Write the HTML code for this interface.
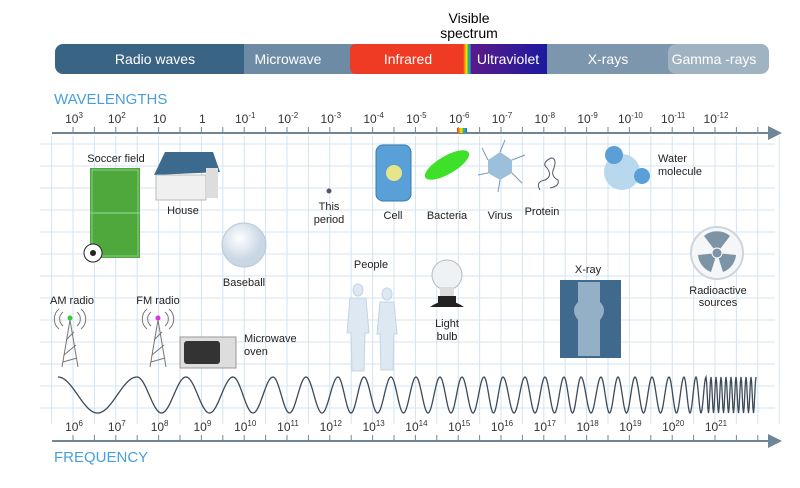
<!DOCTYPE html>
<html><head><meta charset="utf-8"><style>
html,body{margin:0;padding:0;background:#fff;}
svg{display:block;font-family:"Liberation Sans",sans-serif;}
</style></head><body>
<svg id="s" width="800" height="488" viewBox="0 0 800 488" xmlns="http://www.w3.org/2000/svg">
<defs>
<linearGradient id="rb" x1="0" x2="1"><stop offset="0" stop-color="#e33"/><stop offset=".25" stop-color="#f90"/><stop offset=".45" stop-color="#ee0"/><stop offset=".65" stop-color="#3b3"/><stop offset=".85" stop-color="#29f"/><stop offset="1" stop-color="#63c"/></linearGradient>
<linearGradient id="uv" x1="0" x2="1"><stop offset="0" stop-color="#5a1a8a"/><stop offset="1" stop-color="#1a1aa0"/></linearGradient>
<radialGradient id="ball" cx=".4" cy=".35"><stop offset="0" stop-color="#fff"/><stop offset="1" stop-color="#c9d6e4"/></radialGradient>
</defs>
<g id="grid" stroke="#d3e4f1" stroke-width="1"></g>
<!-- top bar -->
<rect x="55" y="44" width="200" height="30" rx="8" fill="#3a6484"/>
<rect x="244" y="44" width="115" height="30" fill="#6d8ba5"/>
<rect x="350" y="44" width="120" height="30" rx="6" fill="#ef3a24"/>
<rect x="463" y="44" width="8" height="30" fill="url(#rb)"/>
<rect x="471" y="44" width="80" height="30" fill="url(#uv)"/>
<rect x="547" y="44" width="130" height="30" fill="#7b96ad"/>
<rect x="668" y="44" width="101" height="30" rx="8" fill="#a0b3c3"/>
<g fill="#fff" font-size="14" text-anchor="middle">
<text x="155" y="64">Radio waves</text><text x="288" y="64">Microwave</text>
<text x="408" y="64">Infrared</text><text x="508" y="64">Ultraviolet</text>
<text x="608" y="64">X-rays</text><text x="714" y="64">Gamma -rays</text>
</g>
<text x="469" y="23" font-size="14" text-anchor="middle">Visible</text>
<text x="469" y="38" font-size="14" text-anchor="middle">spectrum</text>
<text x="54" y="104" font-size="15" fill="#4a9fd8">WAVELENGTHS</text>
<text x="54" y="462" font-size="15" fill="#4a9fd8">FREQUENCY</text>
<!-- axes -->
<line x1="52" y1="133" x2="772" y2="133" stroke="#6f8698" stroke-width="2"/>
<polygon points="768,126 782,133 768,140" fill="#6f8698"/>
<line x1="52" y1="441" x2="772" y2="441" stroke="#6f8698" stroke-width="2"/>
<polygon points="768,434 782,441 768,448" fill="#6f8698"/>
<g id="ticks" stroke="#6f8698" stroke-width="1"></g>
<rect x="457" y="128" width="10" height="5" fill="url(#rb)"/>
<g id="wl" font-size="12" fill="#333" text-anchor="middle"></g>
<path id="wave" fill="none" stroke="#3c4a58" stroke-width="1.3"/>
<!-- illustrations -->
<g font-size="11" fill="#222" text-anchor="middle">
<text x="116" y="162">Soccer field</text>
<rect x="90" y="168" width="50" height="90" fill="#4fa83c"/>
<line x1="90" y1="213" x2="140" y2="213" stroke="#9d9" /><rect x="92" y="170" width="46" height="86" fill="none" stroke="#8c8"/>
<circle cx="93" cy="253" r="9" fill="#fff" stroke="#222"/><circle cx="93" cy="253" r="3" fill="#222"/>
<polygon points="154,175 165,152 213,152 220,172" fill="#3b6a8e"/>
<rect x="156" y="175" width="50" height="25" fill="#f0f0f0" stroke="#bbb"/><rect x="206" y="168" width="12" height="30" fill="#ddd"/>
<text x="183" y="214">House</text>
<circle cx="244" cy="245" r="22" fill="url(#ball)" stroke="#b8c8d8"/>
<text x="244" y="286">Baseball</text>
<circle cx="329" cy="191" r="2.5" fill="#556"/>
<text x="329" y="210">This</text><text x="329" y="223">period</text>
<rect x="376" y="145" width="35" height="56" rx="7" fill="#5aa0d8" stroke="#3a7ab0"/>
<circle cx="394" cy="173" r="8" fill="#e8e48a"/>
<text x="393" y="219">Cell</text>
<ellipse cx="447" cy="165" rx="25" ry="9" transform="rotate(-30 447 165)" fill="#3ee02a"/>
<text x="447" y="219">Bacteria</text>
<polygon points="500,152 512,160 512,173 500,180 488,173 488,160" fill="#9cc0dc"/>
<g stroke="#7a9ab4"><line x1="500" y1="152" x2="505" y2="140"/><line x1="512" y1="160" x2="525" y2="155"/><line x1="488" y1="173" x2="478" y2="175"/><line x1="500" y1="180" x2="498" y2="192"/><line x1="512" y1="173" x2="522" y2="183"/><line x1="488" y1="160" x2="482" y2="148"/></g>
<text x="500" y="219">Virus</text>
<path d="M540 190 q-5 -8 5 -10 q8 -4 2 -12 q-6 -5 4 -10 q6 0 3 10 q-4 8 4 12 q2 6 -8 8" fill="none" stroke="#556" stroke-width="1"/>
<text x="542" y="215">Protein</text>
<circle cx="622" cy="172" r="18" fill="#b8d8ee"/><circle cx="614" cy="155" r="9" fill="#5a9fd8"/><circle cx="642" cy="176" r="8" fill="#5a9fd8"/>
<text x="658" y="162" text-anchor="start">Water</text><text x="658" y="175" text-anchor="start">molecule</text>
<circle cx="717" cy="253" r="26" fill="#f4f6f8" stroke="#cdd5dd" stroke-width="2"/>
<path d="M717 253 L704 236 A20 20 0 0 1 730 236Z M717 253 L736 255 A20 20 0 0 1 723 272Z M717 253 L711 272 A20 20 0 0 1 698 255Z" fill="#7d93a6"/>
<circle cx="717" cy="253" r="5" fill="#7d93a6" stroke="#fff"/>
<text x="718" y="294">Radioactive</text><text x="718" y="306">sources</text>
<text x="72" y="304">AM radio</text><text x="158" y="304">FM radio</text>
<g fill="none" stroke="#777"><path d="M70 320 L62 367 M70 320 L78 367 M64 355 L76 345 M66 340 L74 332 M63 362 L77 358"/><path d="M63 312 a9 9 0 0 0 0 14 M77 312 a9 9 0 0 1 0 14 M59 309 a13 13 0 0 0 0 20 M81 309 a13 13 0 0 1 0 20"/>
<path d="M158 320 L150 367 M158 320 L166 367 M152 355 L164 345 M154 340 L162 332 M151 362 L165 358"/><path d="M151 312 a9 9 0 0 0 0 14 M165 312 a9 9 0 0 1 0 14 M147 309 a13 13 0 0 0 0 20 M169 309 a13 13 0 0 1 0 20"/></g>
<circle cx="70" cy="318" r="2.5" fill="#3c3"/><circle cx="158" cy="318" r="2.5" fill="#d3d"/>
<rect x="180" y="337" width="56" height="31" fill="#ddd" stroke="#999"/><rect x="184" y="341" width="36" height="23" rx="3" fill="#333"/>
<text x="244" y="342" text-anchor="start">Microwave</text><text x="244" y="355" text-anchor="start">oven</text>
<text x="371" y="268">People</text>
<g fill="#dde8f3" stroke="#c4d4e4"><ellipse cx="358" cy="290" rx="5" ry="6"/><path d="M350 298 h16 l3 35 h-4 l-1 38 h-12 l-1 -38 h-4z"/><ellipse cx="387" cy="294" rx="5" ry="6"/><path d="M380 302 h14 l3 32 h-3 l-1 36 h-12 l-1 -36 h-3z"/></g>
<circle cx="447" cy="275" r="15" fill="#eef2f4" stroke="#bbb"/><rect x="440" y="287" width="14" height="10" fill="#ddd"/>
<path d="M430 307 q17 -12 34 0 z" fill="#222"/><rect x="438" y="296" width="18" height="8" fill="#222"/>
<text x="447" y="327">Light</text><text x="447" y="340">bulb</text>
<text x="588" y="273">X-ray</text>
<rect x="560" y="280" width="61" height="78" fill="#3f6a8e"/>
<path d="M578 282 h22 v20 q8 8 0 18 v36 h-22 v-36 q-8 -10 0 -18z" fill="#b8cede" opacity=".7"/>
</g>
</svg>
<script>
(function(){
var NS="http://www.w3.org/2000/svg";
function el(p,t,a,txt){var e=document.createElementNS(NS,t);for(var k in a)e.setAttribute(k,a[k]);if(txt!=null)e.textContent=txt;p.appendChild(e);return e;}
var g=document.getElementById("grid");
for(var x=51.6;x<780;x+=21.4)el(g,"line",{x1:x,y1:136,x2:x,y2:424});
for(var y=144;y<424;y+=22)el(g,"line",{x1:40,y1:y,x2:775,y2:y});
var t=document.getElementById("ticks");
for(var x=73;x<765;x+=21.4){el(t,"line",{x1:x,y1:127,x2:x,y2:133});el(t,"line",{x1:x,y1:435,x2:x,y2:441});}
var wl=document.getElementById("wl");
var wls=["3","2","","","-1","-2","-3","-4","-5","-6","-7","-8","-9","-10","-11","-12"];
for(var i=0;i<16;i++){var cx=74+42.8*i;
 var base=i==2?"10":(i==3?"1":"10");
 var tx=el(wl,"text",{x:cx,y:123},base);
 if(wls[i]){var ts=el(tx,"tspan",{"font-size":"8",dy:"-5"},wls[i]);}
 var fx=el(wl,"text",{x:74+42.8*i,y:431},"10");
 el(fx,"tspan",{"font-size":"8",dy:"-5"},String(6+i));
}
var pk=[58,98,137,186,233,273,306,338,364,391,416,440,462,484,503,525,545,564,581,601,618,635,652,669,684,696,706];
var pks=[58,137,186,233,273,306,338,364,391,416,440,462,484,503,525,545,564,581,601,618,635,652,669,684,696,706];
for(var x=711;x<=760;x+=5)pks.push(x);
var d="";
for(var k=0;k<pks.length-1;k++){var a=pks[k],b=pks[k+1];var n=Math.max(8,Math.round((b-a)*1.5));
 for(var j=0;j<=n;j++){var xx=a+(b-a)*j/n;var yy=395-18*Math.cos(2*Math.PI*j/n);d+=(d?"L":"M")+xx.toFixed(2)+" "+yy.toFixed(2);}}
document.getElementById("wave").setAttribute("d",d);
})();
</script>
</body></html>
